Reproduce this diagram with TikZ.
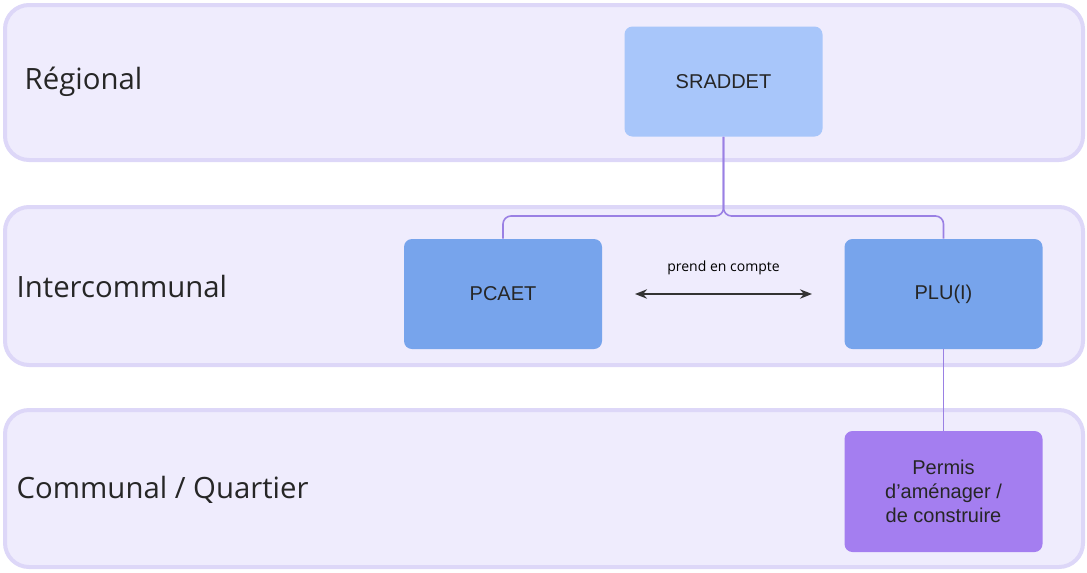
\documentclass[tikz,border=0pt]{standalone}
\usepackage{fontspec}
\setmainfont{Liberation Sans}
\newfontfamily\labelfont{Open Sans}
\usetikzlibrary{arrows.meta, positioning, calc}
\definecolor{bandfill}{HTML}{EFECFD}
\definecolor{bandline}{HTML}{DDD7F8}
\definecolor{lightblue}{HTML}{A8C6FA}
\definecolor{midblue}{HTML}{77A4EC}
\definecolor{violet}{HTML}{A47EF0}
\definecolor{linkcol}{HTML}{9A80E4}
\definecolor{arrowcol}{HTML}{333333}

\begin{document}
\begin{tikzpicture}[x=0.75pt, y=-0.75pt,
    band/.style={draw=bandline, line width=3pt, fill=bandfill, rounded corners=18pt},
    level/.style={anchor=west, font=\labelfont\fontsize{22}{26}\selectfont, text=black!85},
    plan/.style={rounded corners=6pt, minimum width=148.5pt, minimum height=82.5pt,
        align=center, font=\fontsize{15}{18}\selectfont, text=black!85},
    link/.style={draw=linkcol, line width=1.2pt, rounded corners=6pt}]
    \useasboundingbox (0,0) rectangle (1087,572);

    % Levels
    \draw[band] (5,5) rectangle (1083,160);
    \draw[band] (5,207) rectangle (1083,365);
    \draw[band] (5,410) rectangle (1083,567);
    \node[level] (regional) at (20,82) {Régional};
    \node[level] (inter) at (12,286) {Intercommunal};
    \node[level] (communal) at (12,490) {Communal / Quartier};

    % Plans
    \node[plan, fill=lightblue] (sraddet) at (723.5,81.5) {SRADDET};
    \node[plan, fill=midblue] (pcaet) at (503,294) {PCAET};
    \node[plan, fill=midblue] (plu) at (943.5,294) {PLU(I)};
    \node[plan, fill=violet, minimum height=90.75pt] (permis) at (943.5,491.5)
        {Permis\\d'aménager /\\de construire};

    % Links
    \coordinate (split) at (723.5,216);
    \draw[link] (sraddet.south) -- (split) -| (pcaet.north);
    \draw[link] (sraddet.south) -- (split) -| (plu.north);
    \draw[link] (plu.south) -- (permis.north);

    % Mutual relation
    \coordinate (leftend) at (635,294);
    \coordinate (rightend) at (812,294);
    \draw[{Stealth[length=9pt,width=7pt]}-{Stealth[length=9pt,width=7pt]}, arrowcol, line width=1.5pt]
        (leftend) -- (rightend)
        node[midway, above=10pt, text=black, font=\labelfont\fontsize{10.5}{12}\selectfont] {prend en compte};
\end{tikzpicture}
\end{document}
